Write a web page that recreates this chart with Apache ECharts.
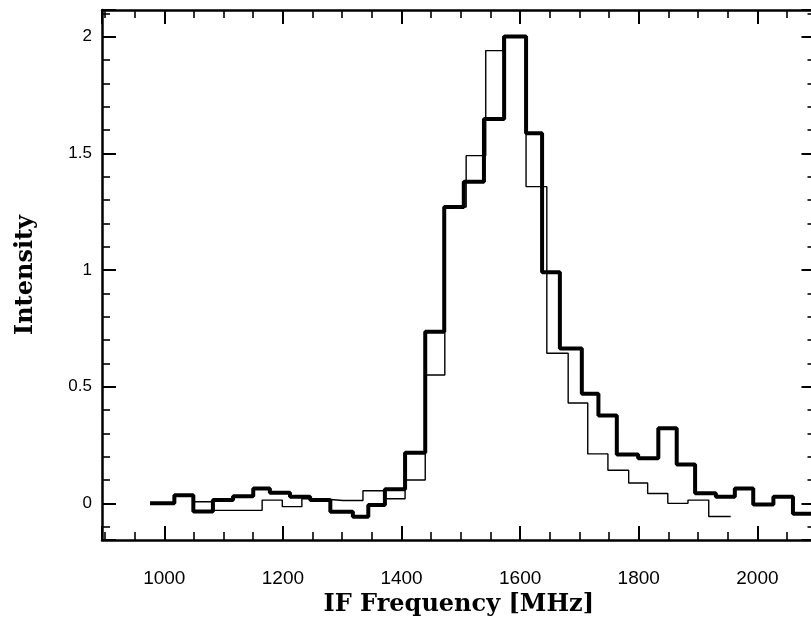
<!DOCTYPE html>
<html><head><meta charset="utf-8">
<script src="https://cdn.jsdelivr.net/npm/echarts@6/dist/echarts.min.js"></script>
<style>html,body{margin:0;padding:0;background:#fff}#c{width:811px;height:618px}</style>
</head><body><div id="c"></div>
<script>
// Bin edges (MHz) and intensities
const thickEdges = [976,1017,1049,1082,1116,1150,1178,1212,1246,1280,1318,1344,1372,1406,1440,1472,1505,1539,1573,1610,1637,1667,1704,1732,1763,1799,1833,1864,1895,1930,1962,1993,2027,2060,2098];
const thickVals = [0,0.035,-0.035,0.014,0.031,0.064,0.045,0.028,0.014,-0.036,-0.057,-0.007,0.06,0.217,0.735,1.27,1.378,1.647,2.0,1.586,0.99,0.664,0.47,0.376,0.209,0.193,0.322,0.166,0.043,0.028,0.064,-0.005,0.028,-0.045];
const thinEdges = [1049,1082,1123,1165,1199,1232,1266,1301,1335,1372,1406,1440,1473,1509,1542,1571,1610,1645,1681,1714,1748,1783,1815,1849,1883,1918,1955];
const thinVals = [0.007,-0.03,-0.03,0.014,-0.014,0.02,0.012,0.012,0.054,0.02,0.10,0.55,1.27,1.49,1.94,2.0,1.357,0.643,0.43,0.212,0.142,0.087,0.042,0.0,0.014,-0.056];
const xRange = [895, 2098];
const yRange = [-0.157, 2.114];
const xTitle = 'IF Frequency [MHz]';
const yTitle = 'Intensity';

function steps(edges, vals) {
  const pts = [];
  for (let i = 0; i < vals.length; i++) {
    pts.push([edges[i], vals[i]]);
    pts.push([edges[i + 1], vals[i]]);
  }
  return pts;
}

const chart = echarts.init(document.getElementById('c'), null, {renderer: 'canvas'});
const lineAxis = {show: true, onZero: false, lineStyle: {color: '#000', width: 2.5}};
const majorTick = {show: true, inside: true, length: 14, lineStyle: {color: '#000', width: 2}};
const minorTick = {show: true, splitNumber: 4, length: 8, lineStyle: {color: '#000', width: 1.6}};
const titleFont = {fontFamily: 'DejaVu Serif', fontWeight: 'bold', fontSize: 24, color: '#000'};

chart.setOption({
  animation: false,
  backgroundColor: '#fff',
  grid: {left: 102, top: 10, width: 713.5, height: 530, containLabel: false, outerBoundsMode: 'none'},
  xAxis: [
    {type: 'value', position: 'bottom', min: xRange[0], max: xRange[1],
     axisLine: lineAxis, axisTick: majorTick, minorTick: minorTick,
     splitLine: {show: false}, minorSplitLine: {show: false},
     axisLabel: {showMinLabel: false, showMaxLabel: false, margin: 29, formatter: v => String(v),
                 fontFamily: 'Liberation Sans', fontSize: 19, color: '#000'},
     name: xTitle, nameLocation: 'middle', nameGap: 49, nameTextStyle: titleFont},
    {type: 'value', position: 'top', min: xRange[0], max: xRange[1],
     axisLine: lineAxis, axisTick: majorTick, minorTick: minorTick,
     splitLine: {show: false}, minorSplitLine: {show: false}, axisLabel: {show: false}}
  ],
  yAxis: [
    {type: 'value', position: 'left', min: yRange[0], max: yRange[1],
     axisLine: lineAxis, axisTick: majorTick, minorTick: Object.assign({}, minorTick, {splitNumber: 5}),
     splitLine: {show: false}, minorSplitLine: {show: false},
     axisLabel: {showMinLabel: false, showMaxLabel: false, margin: 10, formatter: v => String(v),
                 fontFamily: 'Liberation Sans', fontSize: 17, color: '#000'},
     name: yTitle, nameLocation: 'middle', nameGap: 64, nameTextStyle: titleFont},
    {type: 'value', position: 'right', min: yRange[0], max: yRange[1],
     axisLine: lineAxis, axisTick: majorTick, minorTick: Object.assign({}, minorTick, {splitNumber: 5}),
     splitLine: {show: false}, minorSplitLine: {show: false}, axisLabel: {show: false}}
  ],
  series: [
    {type: 'line', name: 'thin', data: steps(thinEdges, thinVals), symbol: 'none',
     lineStyle: {color: '#000', width: 1.4}, z: 2},
    {type: 'line', name: 'thick', data: steps(thickEdges, thickVals), symbol: 'none',
     lineStyle: {color: '#000', width: 4}, z: 3}
  ]
});
</script></body></html>
